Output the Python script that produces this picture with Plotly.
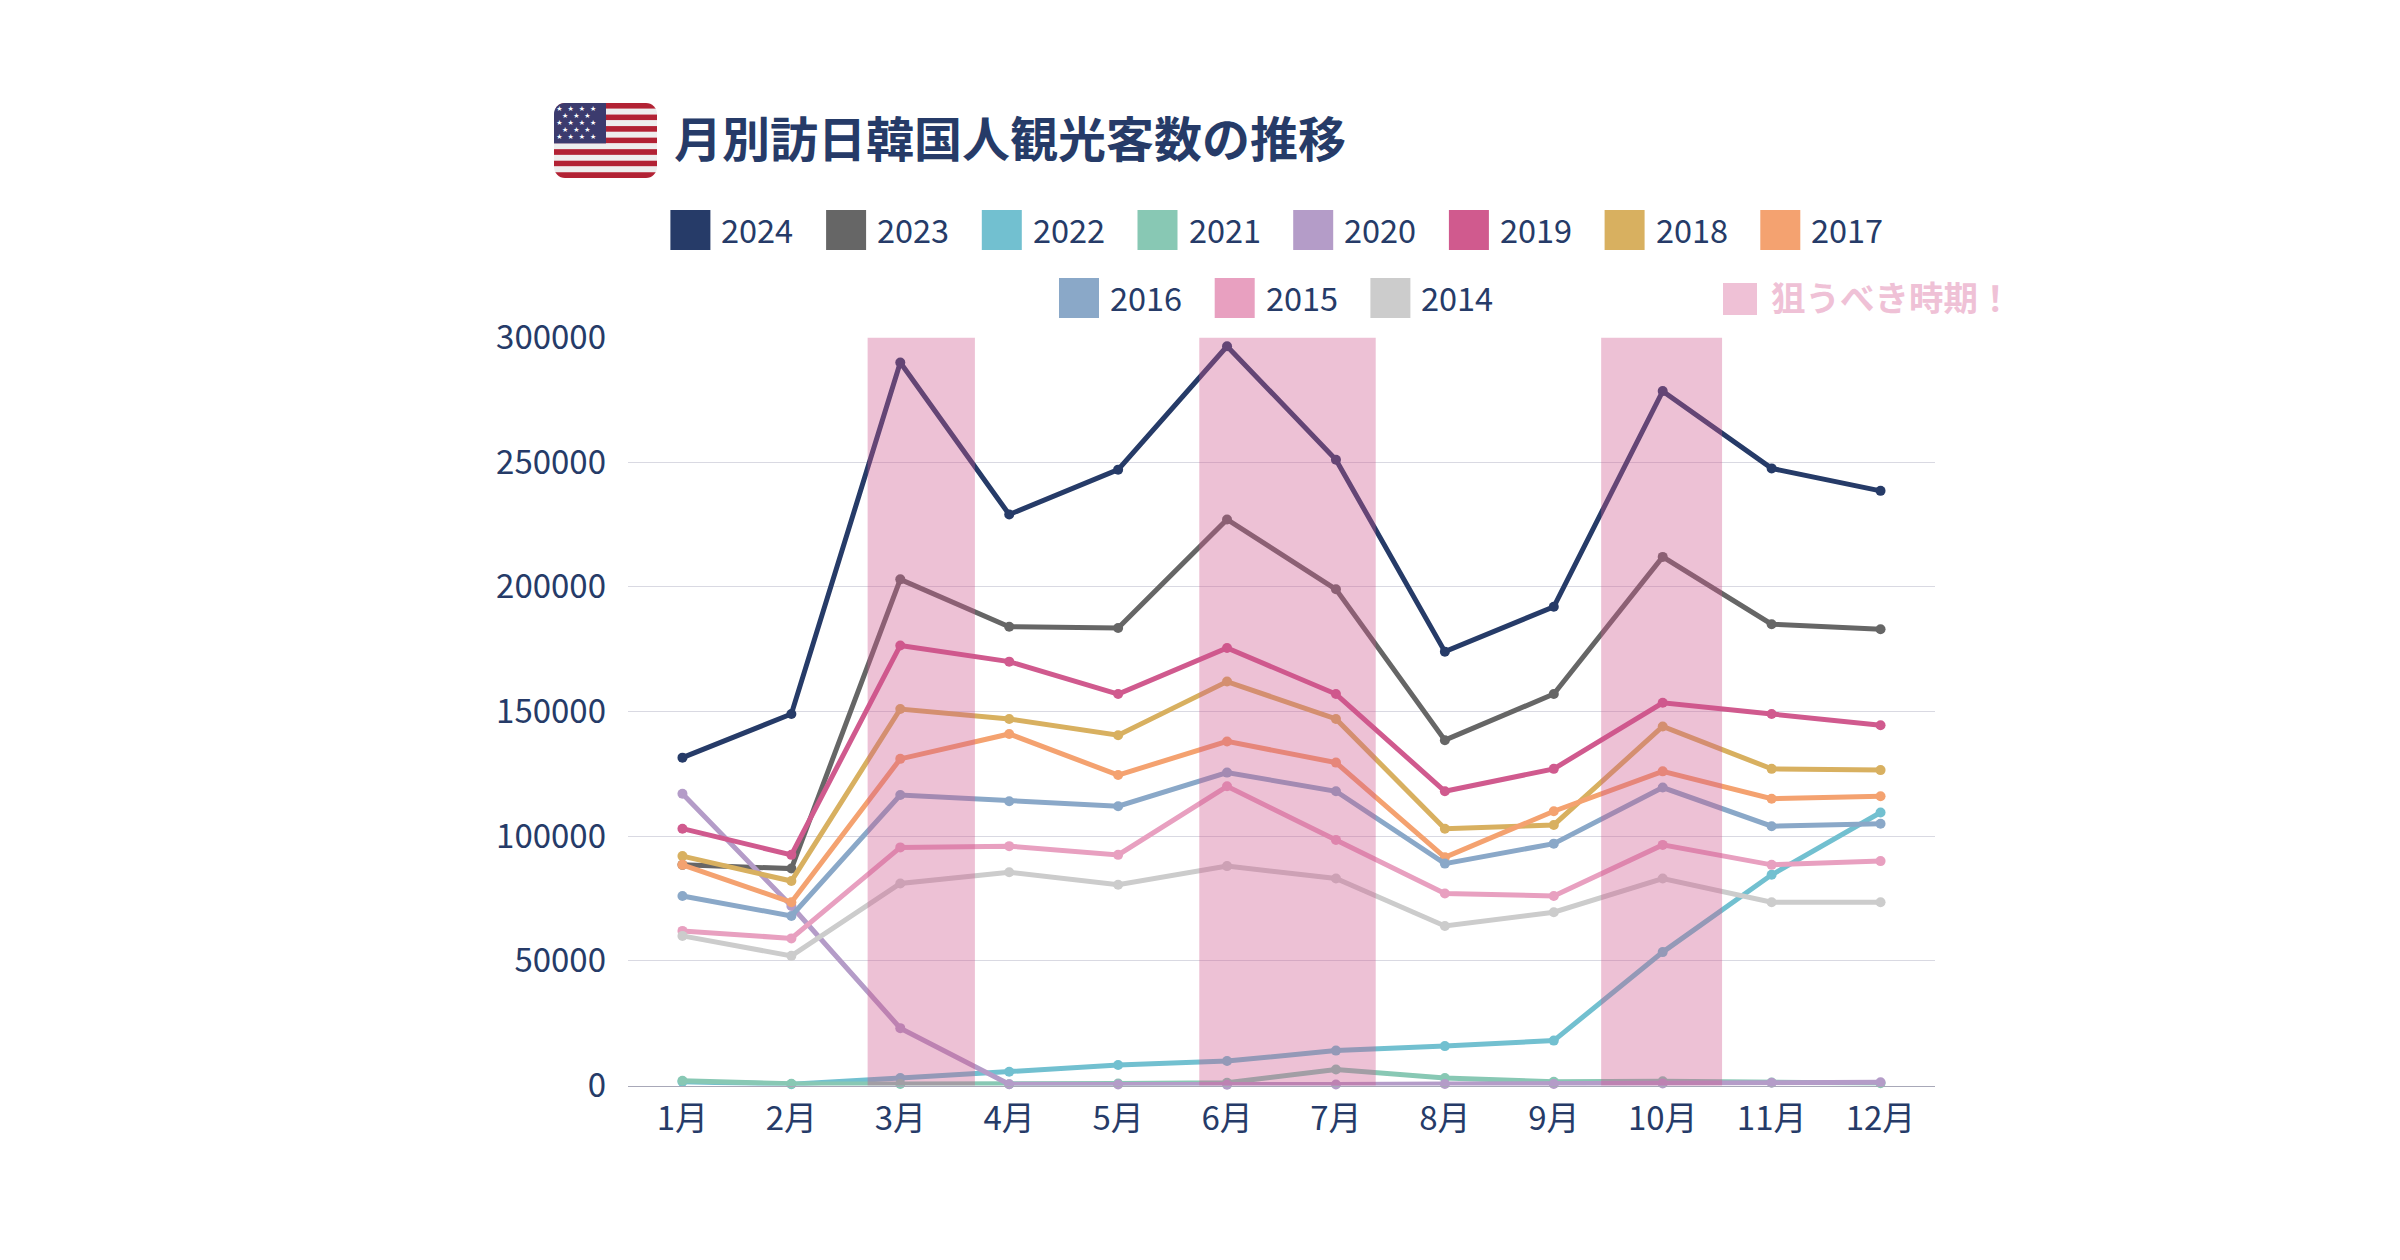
import base64
import plotly.graph_objects as go

months = ["1月", "2月", "3月", "4月", "5月", "6月", "7月", "8月", "9月", "10月", "11月", "12月"]
y2024 = [131500, 149000, 290000, 229000, 247000, 296500, 251000, 174000, 192000, 278500, 247500, 238500]
y2023 = [88500, 87000, 203000, 184000, 183500, 227000, 199000, 138500, 157000, 212000, 185000, 183000]
y2022 = [1500, 500, 3000, 5500, 8200, 9800, 14000, 15800, 18000, 53500, 84500, 109500]
y2021 = [1900, 700, 600, 500, 800, 1100, 6400, 3000, 1500, 1700, 1200, 900]
y2020 = [117000, 72000, 23000, 500, 400, 300, 400, 600, 600, 800, 1100, 1300]
y2019 = [103000, 92500, 176500, 170000, 157000, 175500, 157000, 118000, 127000, 153500, 149000, 144500]
y2018 = [92000, 82000, 151000, 147000, 140500, 162000, 147000, 103000, 104500, 144000, 127000, 126500]
y2017 = [88500, 73500, 131000, 141000, 124500, 138000, 129500, 91500, 110000, 126000, 115000, 116000]
y2016 = [76000, 68000, 116500, 114000, 112000, 125500, 118000, 89000, 97000, 119500, 104000, 105000]
y2015 = [62000, 59000, 95500, 96000, 92500, 120000, 98500, 77000, 76000, 96500, 88500, 90000]
y2014 = [60000, 52000, 81000, 85500, 80500, 88000, 83000, 64000, 69500, 83000, 73500, 73500]

years = ["2024", "2023", "2022", "2021", "2020", "2019", "2018", "2017", "2016", "2015", "2014"]
values = [y2024, y2023, y2022, y2021, y2020, y2019, y2018, y2017, y2016, y2015, y2014]
colors = ["#263B68", "#666666", "#72C0D0", "#88C8B4", "#B49CC8", "#D05A8E",
          "#D8B060", "#F4A270", "#8AA8C8", "#E8A0C0", "#CCCCCC"]
bands = [(1.70, 2.685), (4.745, 6.365), (8.435, 9.545)]

title_text = "月別訪日韓国人観光客数の推移"
band_label = "狙うべき時期！"
NAVY = "#263B68"
FONT = "Noto Sans CJK JP"
W, H = 2400, 1260


def px(x):
    return x / W


def py(y):
    return 1 - y / H


fig = go.Figure()
for name, vals, col in zip(years, values, colors):
    fig.add_trace(go.Scatter(x=months, y=vals, name=name, mode="lines+markers",
                             line=dict(color=col, width=5),
                             marker=dict(color=col, size=10),
                             cliponaxis=False, showlegend=False))

shapes = []
for b0, b1 in bands:
    shapes.append(dict(type="rect", xref="x", yref="y", x0=b0, x1=b1, y0=-1300, y1=300000,
                       fillcolor="rgba(206,88,140,0.37)", line=dict(width=0), layer="above"))

annotations = [dict(text="<b>" + title_text + "</b>", x=px(672), y=py(136), xref="paper", yref="paper",
                    xanchor="left", yanchor="middle", showarrow=False,
                    font=dict(family=FONT, size=48, color=NAVY))]

for i, (name, col) in enumerate(zip(years, colors)):
    if i < 8:
        sx, sy = 670.4 + 155.7 * i, 210
    else:
        sx, sy = 1059 + 155.7 * (i - 8), 278
    shapes.append(dict(type="rect", xref="paper", yref="paper", x0=px(sx), x1=px(sx + 40),
                       y0=py(sy + 40), y1=py(sy), fillcolor=col, line=dict(width=0)))
    annotations.append(dict(text=name, x=px(sx + 49), y=py(sy + 18), xref="paper", yref="paper",
                            xanchor="left", yanchor="middle", showarrow=False,
                            font=dict(family=FONT, size=32.5, color=NAVY)))

shapes.append(dict(type="rect", xref="paper", yref="paper", x0=px(1723), x1=px(1757),
                   y0=py(315), y1=py(283), fillcolor="#EFC1D6", line=dict(width=0)))
annotations.append(dict(text="<b>" + band_label + "</b>", x=px(1769), y=py(296), xref="paper", yref="paper",
                        xanchor="left", yanchor="middle", showarrow=False,
                        font=dict(family=FONT, size=34.5, color="#EFC1D6")))

# US flag emblem as an inline SVG
stripes = "".join(
    f'<rect x="0" y="{i * 75 / 13:.3f}" width="103" height="{75 / 13:.3f}" fill="{"#B22234" if i % 2 == 0 else "#EEEEEE"}"/>'
    for i in range(13))
stars = ""
for r in range(5):
    n = 4 if r % 2 == 0 else 3
    off = 0 if r % 2 == 0 else 5.6
    for c in range(n):
        stars += (f'<text x="{5.5 + off + c * 11.2:.1f}" y="{7.5 + r * 7.2:.1f}" font-size="7" '
                  f'fill="#fff" text-anchor="middle" font-family="DejaVu Sans">★</text>')
svg = (f'<svg xmlns="http://www.w3.org/2000/svg" width="103" height="75" viewBox="0 0 103 75">'
       f'<defs><clipPath id="c"><rect width="103" height="75" rx="11" ry="11"/></clipPath></defs>'
       f'<g clip-path="url(#c)">{stripes}<rect width="52" height="40.4" fill="#3C3B6E"/>{stars}</g></svg>')
flag = "data:image/svg+xml;base64," + base64.b64encode(svg.encode()).decode()

fig.update_layout(
    width=W, height=H, margin=dict(l=0, r=0, t=0, b=0, autoexpand=False), autosize=False,
    paper_bgcolor="white", plot_bgcolor="white", showlegend=False,
    font=dict(family=FONT, size=33, color=NAVY),
    shapes=shapes, annotations=annotations,
    images=[dict(source=flag, xref="paper", yref="paper", x=px(554), y=py(103),
                 sizex=103 / W, sizey=75 / H, sizing="stretch", xanchor="left", yanchor="top",
                 layer="above")],
    xaxis=dict(domain=[px(628), px(1935)], type="category", range=[-0.5, 11.5], automargin=False,
               showgrid=False, showline=True, linecolor="#A8A8B8", linewidth=1, ticks="",
               ticklabelstandoff=4, tickfont=dict(family=FONT, size=33, color=NAVY), zeroline=False),
    yaxis=dict(domain=[py(1085.5), py(337.5)], range=[0, 300000], dtick=50000, tickformat="d", automargin=False,
               showgrid=True, gridcolor="#D9D9E2", gridwidth=1, showline=False, ticks="",
               ticklabelstandoff=21, tickfont=dict(family=FONT, size=33, color=NAVY), zeroline=False),
)

fig.write_html("out.html", post_script="document.body.style.margin='0';",
               config={"displayModeBar": False})
